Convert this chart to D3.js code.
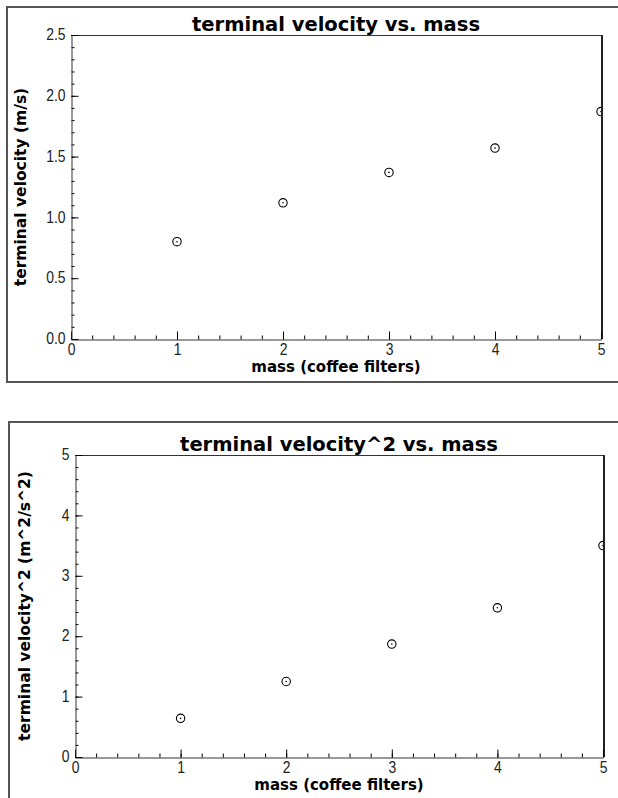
<!DOCTYPE html>
<html>
<head>
<meta charset="utf-8">
<script src="https://cdn.jsdelivr.net/npm/d3@7"></script>
<style>
  body { margin: 0; background: #fff; }
  .tick text { font-family: "Liberation Sans", Arial, sans-serif; font-size: 17px; fill: #222; }
</style>
</head>
<body>
<div id="chart"></div>
<script>
// data
var massValues = [1, 2, 3, 4, 5];
var velocityValues = [0.80, 1.12, 1.37, 1.57, 1.87];
var velocitySqValues = [0.64, 1.25, 1.87, 2.47, 3.50];

var massTicks = [0, 1, 2, 3, 4, 5];
var massMinorTicks = d3.range(0, 5.01, 0.2);
var velocityTicks = [0, 0.5, 1.0, 1.5, 2.0, 2.5];
var velocityMinorTicks = d3.range(0, 2.51, 0.1);
var velocitySqTicks = [0, 1, 2, 3, 4, 5];
var velocitySqMinorTicks = d3.range(0, 5.01, 0.2);

var svg = d3.select("#chart").append("svg").attr("width", 618).attr("height", 798);
var narrow = 0.82;  // squeeze tick digits, the original uses a narrow face

function drawPanel(cfg) {
    var left = cfg.left, right = cfg.right, top = cfg.top, bottom = cfg.bottom;

    // outer box
    svg.append("rect").attr("x", cfg.boxX).attr("y", cfg.boxY).attr("width", 640).attr("height", cfg.boxH)
        .attr("fill", "none").attr("stroke", "#555").attr("stroke-width", 2);

    var x = d3.scaleLinear().domain([0, 5]).range([left, right]);
    var y = d3.scaleLinear().domain(cfg.yDomain).range([bottom, top]);

    // frame top + right
    svg.append("line").attr("x1", left).attr("x2", right + 1).attr("y1", top + 0.5).attr("y2", top + 0.5)
        .attr("stroke", "#333").attr("stroke-width", 1);
    svg.append("line").attr("x1", right + 1).attr("x2", right + 1).attr("y1", top).attr("y2", bottom)
        .attr("stroke", "#222").attr("stroke-width", 2);

    // minor ticks
    svg.append("g").attr("transform", `translate(0,${bottom + 0.5})`)
        .call(d3.axisBottom(x).tickValues(massMinorTicks).tickSizeInner(-4).tickSizeOuter(0).tickFormat(""))
        .call(g => g.select(".domain").remove());
    svg.append("g").attr("transform", `translate(${left + 0.5},0)`)
        .call(d3.axisLeft(y).tickValues(cfg.yMinor).tickSizeInner(-3).tickSizeOuter(0).tickFormat(""))
        .call(g => g.select(".domain").remove());

    // major ticks and labels
    var xg = svg.append("g").attr("transform", `translate(0,${bottom + 0.5})`)
        .call(d3.axisBottom(x).tickValues(massTicks).tickSizeInner(-8).tickSizeOuter(0).tickPadding(3).tickFormat(d3.format("d")));
    xg.selectAll(".tick text").attr("transform", `scale(${narrow},1)`);
    var yg = svg.append("g").attr("transform", `translate(${left + 0.5},0)`)
        .call(d3.axisLeft(y).tickValues(cfg.yTicks).tickSizeInner(-7).tickSizeOuter(0).tickFormat(cfg.yFormat));
    yg.selectAll(".tick text").attr("x", -6 / narrow).attr("dy", "0.28em").attr("transform", `scale(${narrow},1)`);
    svg.selectAll(".domain").attr("stroke", "#333");

    // points
    var clipId = "clip" + cfg.id;
    svg.append("clipPath").attr("id", clipId).append("rect")
        .attr("x", left).attr("y", top).attr("width", right - left).attr("height", bottom - top);
    var pts = svg.append("g").attr("clip-path", `url(#${clipId})`);
    pts.selectAll("circle.pt").data(cfg.values).enter().append("circle").attr("class", "pt")
        .attr("cx", (d, i) => x(massValues[i])).attr("cy", d => y(d)).attr("r", 4.2)
        .attr("fill", "none").attr("stroke", "#000").attr("stroke-width", 1.1);
    pts.selectAll("circle.dot").data(cfg.values).enter().append("circle").attr("class", "dot")
        .attr("cx", (d, i) => x(massValues[i])).attr("cy", d => y(d)).attr("r", 0.8).attr("fill", "#000");

    // titles
    svg.append("text").attr("x", (left + right) / 2).attr("y", top - 4).attr("text-anchor", "middle")
        .style("font", "bold 19.5px 'DejaVu Sans', sans-serif").text(cfg.title);
    svg.append("text").attr("x", (left + right) / 2).attr("y", bottom + 33).attr("text-anchor", "middle")
        .style("font", "bold 15px 'DejaVu Sans', sans-serif").text("mass (coffee filters)");
    svg.append("text").attr("transform", `translate(${cfg.yLabelX},${(top + bottom) / 2}) rotate(-90)`).attr("text-anchor", "middle")
        .style("font", "bold 15.5px 'DejaVu Sans', sans-serif").text(cfg.yLabel);
}

drawPanel({
    id: 1, boxX: 7, boxY: 7, boxH: 375,
    left: 71, right: 601, top: 35, bottom: 339,
    yDomain: [0, 2.5], yTicks: velocityTicks, yMinor: velocityMinorTicks, yFormat: d3.format(".1f"),
    values: velocityValues, title: "terminal velocity vs. mass",
    yLabel: "terminal velocity (m/s)", yLabelX: 26
});

drawPanel({
    id: 2, boxX: 9, boxY: 422, boxH: 400,
    left: 75, right: 603, top: 455, bottom: 757,
    yDomain: [0, 5], yTicks: velocitySqTicks, yMinor: velocitySqMinorTicks, yFormat: d3.format("d"),
    values: velocitySqValues, title: "terminal velocity^2 vs. mass",
    yLabel: "terminal velocity^2 (m^2/s^2)", yLabelX: 30
});
</script>
</body>
</html>
